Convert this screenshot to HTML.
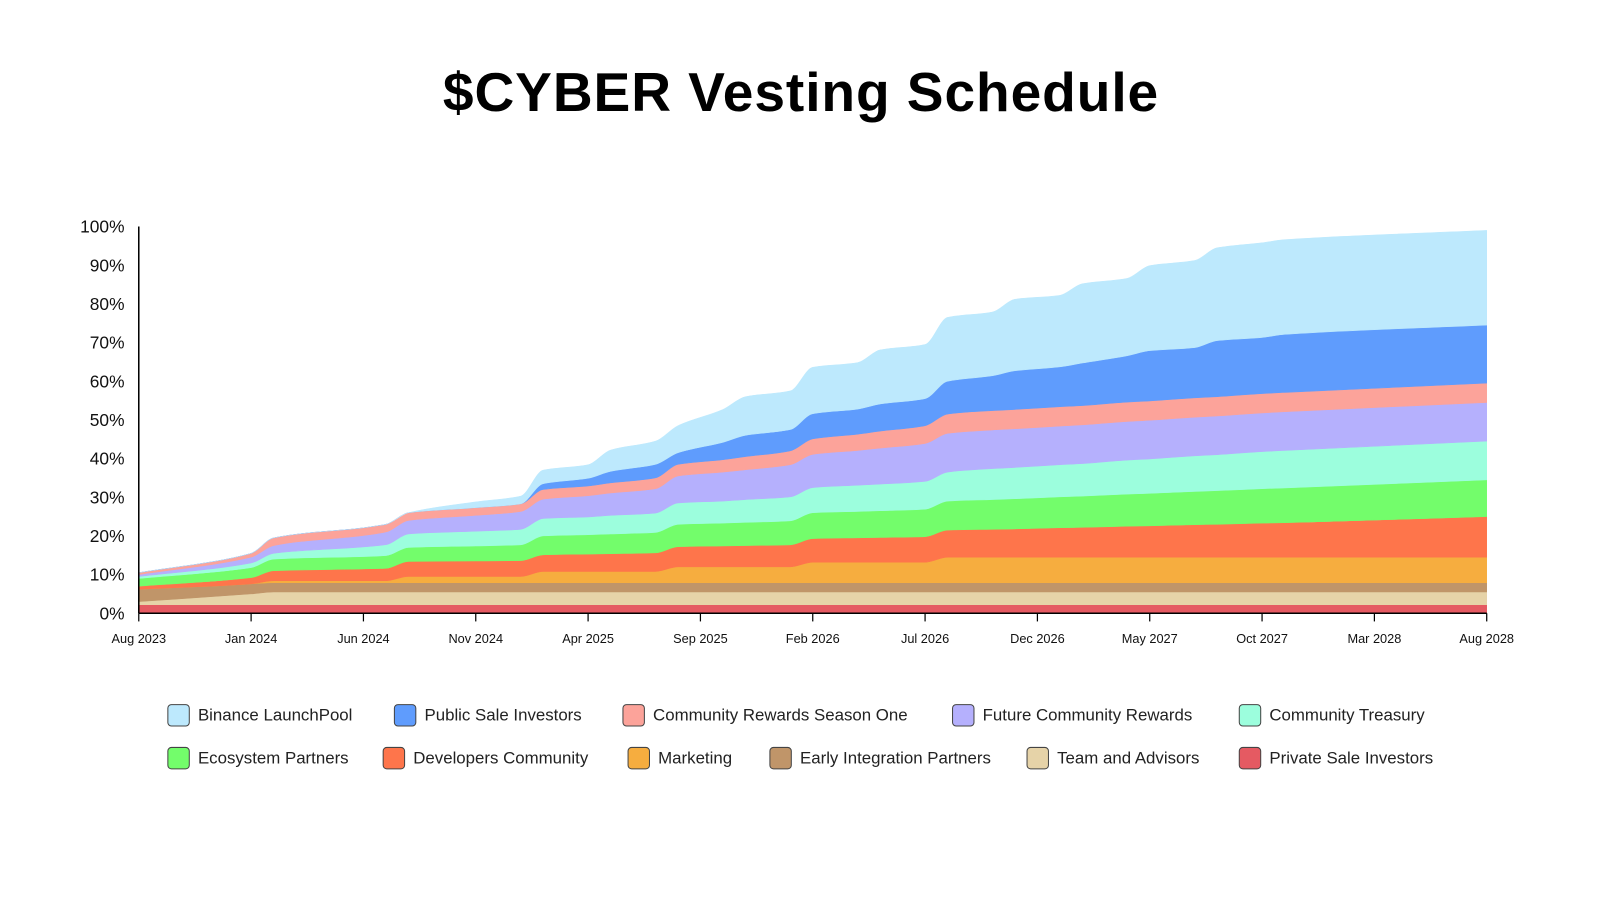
<!DOCTYPE html>
<html><head><meta charset="utf-8">
<style>
body{margin:0;background:#fff;width:1600px;height:900px;overflow:hidden;font-family:"Liberation Sans",sans-serif;}
#wrap{position:absolute;left:0;top:0;width:1600px;height:900px;transform:scale(1.0204);transform-origin:0 0}
#title{position:absolute;left:0;width:1570px;top:60px;text-align:center;font-weight:bold;font-size:54px;color:#000;letter-spacing:0.9px}
.leg{position:absolute;font-size:16.5px;color:#222;display:flex;align-items:center}
.sw{width:22px;height:22px;border-radius:4px;border:1px solid #444;box-sizing:border-box;margin-right:8px}
</style></head><body>
<div id="wrap">
<div id="title">$CYBER Vesting Schedule</div>
<svg id="chart" width="1600" height="900" style="position:absolute;left:0;top:0"></svg>
<div id="legend"></div>
</div>
<script>
const months=[0,5,6,11,12,15,17,18,20,21,23,24,26,27,29,30,32,33,35,36,38,39,41,42,44,45,47,48,50,51,60];
const seriesNames=["Private Sale Investors","Team and Advisors","Early Integration Partners","Marketing","Developers Community","Ecosystem Partners","Community Treasury","Future Community Rewards","Community Rewards Season One","Public Sale Investors","Binance LaunchPool"];
const colors=["#e55a62","#e6d3a8","#c09569","#f6ad3f","#fe754b","#73fd6b","#9cfedd","#b5b0fd","#fca39a","#5f9cfd","#bde9fd"];
const privateSale=[2.2,2.2,2.2,2.2,2.2,2.2,2.2,2.2,2.2,2.2,2.2,2.2,2.2,2.2,2.2,2.2,2.2,2.2,2.2,2.2,2.2,2.2,2.2,2.2,2.2,2.2,2.2,2.2,2.2,2.2,2.2];
const team=[0.8,2.8,3.3,3.3,3.3,3.3,3.3,3.3,3.3,3.3,3.3,3.3,3.3,3.3,3.3,3.3,3.3,3.3,3.3,3.3,3.3,3.3,3.3,3.3,3.3,3.3,3.3,3.3,3.3,3.3,3.3];
const early=[3.2,2.6,2.4,2.4,2.4,2.4,2.4,2.4,2.4,2.4,2.4,2.4,2.4,2.4,2.4,2.4,2.4,2.4,2.4,2.4,2.4,2.4,2.4,2.4,2.4,2.4,2.4,2.4,2.4,2.4,2.4];
const marketing=[0,0,0.5,0.5,1.6,1.6,1.6,2.9,2.9,2.9,2.9,4.1,4.1,4.1,4.1,5.3,5.3,5.3,5.3,6.6,6.6,6.6,6.6,6.6,6.6,6.6,6.6,6.6,6.6,6.6,6.6];
const developers=[0.8,1.6,2.6,3.2,3.9,4.0,4.1,4.3,4.5,4.6,4.8,5.2,5.4,5.5,5.7,6.1,6.3,6.4,6.6,7.0,7.2,7.3,7.6,7.7,8.0,8.1,8.4,8.5,8.8,8.9,10.5];
const ecosystem=[2.0,2.6,3.0,3.3,3.6,3.9,4.1,4.9,5.0,5.1,5.3,5.8,5.9,6.0,6.2,6.7,6.8,6.9,7.1,7.5,7.7,7.8,8.0,8.1,8.3,8.4,8.6,8.7,8.9,9.0,9.5];
const treasury=[0.5,1.2,1.5,2.8,3.5,3.8,4.0,4.5,4.6,4.8,5.0,5.5,5.7,5.9,6.2,6.5,6.8,6.9,7.2,7.5,8.0,8.1,8.3,8.4,8.8,8.9,9.2,9.3,9.6,9.7,10.0];
const futureRewards=[0.5,1.5,2.0,3.3,3.5,4.1,4.6,5.0,5.5,5.8,6.3,7.0,7.5,7.7,8.3,8.6,9.0,9.3,9.8,10,10,10,10,10,10,10,10,10,10,10,10];
const rewardsS1=[0.5,1.0,2.0,2.0,2.0,2.0,2.0,2.5,2.5,2.6,2.8,3.0,3.2,3.4,3.6,4.0,4.2,4.4,4.6,5,5,5,5,5,5,5,5,5,5,5,5];
const publicSale=[0,0,0,0,0,0,0,1.5,2,3,3.5,3,4.5,5.5,5.5,6.5,6.5,7,7,8.5,9,10,10.3,11,12,13,13,14.5,14.5,15,15];
const binance=[0,0,0,0,0,1.5,2,3.5,3.5,5.5,6,7,8.5,10,10,12,12,14,14,16.5,16.5,18.5,18.5,20.5,20,22,22.5,24,24.5,24.5,24.5];
const yTicks=[0,10,20,30,40,50,60,70,80,90,100];
const xTickLabels=["Aug 2023","Jan 2024","Jun 2024","Nov 2024","Apr 2025","Sep 2025","Feb 2026","Jul 2026","Dec 2026","May 2027","Oct 2027","Mar 2028","Aug 2028"];
const xTickMonths=[0,5,10,15,20,25,30,35,40,45,50,55,60];
const legendOrder=[10,9,8,7,6,5,4,3,2,1,0];

const allSeries=[privateSale,team,early,marketing,developers,ecosystem,treasury,futureRewards,rewardsS1,publicSale,binance];
const X0=136,X1=1457,Y0=601,Y1=222;
const xs=m=>X0+(X1-X0)*m/60;
const ys=v=>Y0-(Y0-Y1)*v/100;
const NS="http://www.w3.org/2000/svg";
const svg=document.getElementById('chart');
function mk(t,a){const e=document.createElementNS(NS,t);for(const k in a)e.setAttribute(k,a[k]);svg.appendChild(e);return e;}
function mono(pts){
  const n=pts.length,d=[],m=[];
  for(let i=0;i<n-1;i++)d.push((pts[i+1][1]-pts[i][1])/(pts[i+1][0]-pts[i][0]));
  for(let i=0;i<n;i++){
    if(i==0)m.push(d[0]);else if(i==n-1)m.push(d[n-2]);
    else m.push(d[i-1]*d[i]<=0?0:(2/(1/d[i-1]+1/d[i])));
  }
  let s="";
  for(let i=0;i<n-1;i++){
    const [x0,y0]=pts[i],[x1,y1]=pts[i+1],h=(x1-x0)/3;
    s+=` C${x0+h},${y0+m[i]*h} ${x1-h},${y1-m[i+1]*h} ${x1},${y1}`;
  }
  return s;
}
let base=months.map(()=>0);
allSeries.forEach((ser,si)=>{
  const top=base.map((b,i)=>b+ser[i]);
  const tp=months.map((m,i)=>[xs(m),ys(top[i])]);
  const bp=months.map((m,i)=>[xs(m),ys(base[i])]).reverse();
  const d="M"+tp[0][0]+","+tp[0][1]+mono(tp)+" L"+bp[0][0]+","+bp[0][1]+mono(bp)+"Z";
  const p=mk('path',{d:d,fill:colors[si],stroke:colors[si],'stroke-width':0.5});
  
  
  base=top;
});
const ya=mk('line',{x1:X0,y1:Y1,x2:X0,y2:Y0,stroke:'#000','stroke-width':1.5});


const xa=mk('line',{x1:X0,y1:Y0,x2:X1,y2:Y0,stroke:'#000','stroke-width':1.5});


yTicks.forEach(v=>{
  const t=mk('text',{x:122,y:ys(v)+6,'text-anchor':'end','font-size':17,fill:'#111'});
  t.textContent=v+'%';
  
  
});
xTickMonths.forEach((m,i)=>{
  const l=mk('line',{x1:xs(m),y1:Y0,x2:xs(m),y2:Y0+8,stroke:'#000','stroke-width':1.2});
  
  
  const t=mk('text',{x:xs(m),y:630,'text-anchor':'middle','font-size':12.5,fill:'#111'});
  t.textContent=xTickLabels[i];
  
  
});
const legPos=[[164,702],[386,702],[610,702],[933,702],[1214,702],[164,744],[375,744],[615,744],[754,744],[1006,744],[1214,744]];
const lg=document.getElementById('legend');
legendOrder.forEach((si,i)=>{
  const d=document.createElement('div');d.className='leg';
  d.style.left=legPos[i][0]+'px';d.style.top=(legPos[i][1]-12)+'px';
  d.innerHTML='<div class="sw" style="background:'+colors[si]+'"></div>'+seriesNames[si];
  
  
  lg.appendChild(d);
});
</script>
</body></html>
